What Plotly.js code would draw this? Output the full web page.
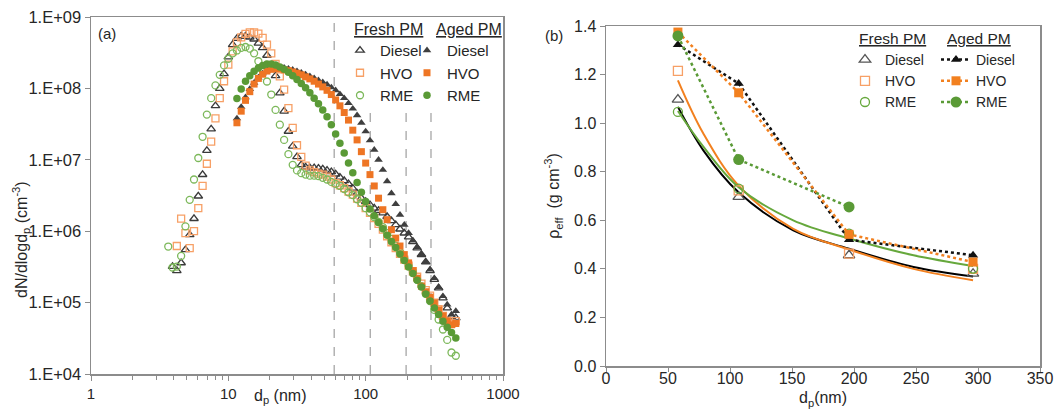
<!DOCTYPE html>
<html>
<head>
<meta charset="utf-8">
<script src="https://cdn.plot.ly/plotly-3.0.1.min.js"></script>
<style>html,body{margin:0;padding:0;background:#fff;}#chart{width:1063px;height:411px;}</style>
</head>
<body>
<div id="chart"></div>
<script>
// ---------- Panel (a): size distributions ----------
const dpFresh = [3.652,3.924,4.217,4.532,4.870,5.233,5.623,6.043,6.494,6.978,7.499,8.058,8.660,9.306,
  10.00,10.75,11.55,12.41,13.34,14.33,15.40,16.55,17.78,19.11,20.54,22.07,23.71,25.48,27.38,29.43,31.62,33.98,
  36.52,39.24,42.17,45.32,48.70,52.33,56.23,60.43,64.94,69.78,74.99,80.58,86.60,93.06,
  100.0,107.5,115.5,124.1,133.4,143.3,154.0,165.5,177.8,191.1,205.4,220.7,237.1,254.8,273.8,294.3,316.2,339.8,365.2,392.4,421.7,453.2];
const dpAged = [11.55,12.41,13.34,14.33,15.40,16.55,17.78,19.11,20.54,22.07,23.71,25.48,27.38,29.43,31.62,33.98,
  36.52,39.24,42.17,45.32,48.70,52.33,56.23,60.43,64.94,69.78,74.99,80.58,86.60,93.06,
  100.0,107.5,115.5,124.1,133.4,143.3,154.0,165.5,177.8,191.1,205.4,220.7,237.1,254.8,273.8,294.3,316.2,339.8,365.2,392.4,421.7,453.2];

const freshDiesel = [null,3.2e5,2.8e5,3.6e5,5.5e5,8.9e5,1.5e6,3.1e6,6.2e6,1.35e7,2.7e7,5.7e7,1.0e8,1.6e8,
  2.75e8,4.1e8,5.0e8,5.4e8,5.4e8,5.2e8,4.9e8,4.3e8,3.7e8,2.9e8,2.1e8,1.5e8,8.6e7,4.8e7,2.5e7,1.55e7,1.1e7,8.5e6,
  7.9e6,7.7e6,7.7e6,7.6e6,7.4e6,7.1e6,6.8e6,6.3e6,5.7e6,5.1e6,4.6e6,4.0e6,3.4e6,2.9e6,
  2.6e6,2.35e6,2.1e6,1.95e6,1.8e6,1.6e6,1.4e6,1.23e6,1.07e6,9.4e5,8.3e5,7.1e5,5.8e5,4.7e5,3.7e5,2.8e5,2.1e5,1.6e5,1.16e5,8.4e4,6.4e4,6.1e4];
const freshHVO = [null,null,6.2e5,1.5e6,9.4e5,5.8e5,1.0e6,2.1e6,4.3e6,8.8e6,1.8e7,3.8e7,7.3e7,1.26e8,
  2.15e8,3.3e8,4.4e8,5.2e8,5.8e8,6.1e8,6.1e8,5.85e8,5.1e8,4.1e8,3.1e8,2.2e8,1.47e8,9.6e7,5.3e7,2.8e7,1.6e7,1.1e7,
  8.3e6,7.1e6,6.7e6,6.4e6,6.2e6,5.8e6,5.3e6,4.7e6,4.4e6,4.0e6,3.6e6,3.25e6,2.85e6,2.5e6,
  2.1e6,1.8e6,1.53e6,1.27e6,1.05e6,8.5e5,7.0e5,5.8e5,4.8e5,4.0e5,3.3e5,2.75e5,2.3e5,1.84e5,1.5e5,1.25e5,1.0e5,8.1e4,6.5e4,5.6e4,5.1e4,5.5e4];
const freshRME = [6.1e5,3.1e5,3.2e5,4.5e5,1.17e6,2.75e6,5.3e6,1.06e7,2.1e7,4.3e7,7.3e7,1.1e8,1.55e8,2.1e8,
  2.6e8,3.1e8,3.4e8,3.7e8,3.8e8,3.6e8,3.1e8,2.4e8,1.8e8,1.25e8,8.2e7,5.0e7,3.1e7,1.9e7,1.2e7,8.5e6,7.1e6,6.5e6,
  6.2e6,6.0e6,6.0e6,5.9e6,5.6e6,5.3e6,4.9e6,4.6e6,4.3e6,3.9e6,3.5e6,3.2e6,2.8e6,2.5e6,
  2.1e6,1.84e6,1.58e6,1.35e6,1.14e6,9.4e5,7.8e5,6.3e5,5.1e5,4.1e5,3.3e5,2.7e5,2.1e5,1.7e5,1.33e5,1.05e5,7.9e4,5.8e4,4.2e4,3.0e4,2.0e4,1.8e4];
const agedDiesel = [3.8e7,5.5e7,7.5e7,9.8e7,1.2e8,1.42e8,1.62e8,1.78e8,1.9e8,1.97e8,1.98e8,1.95e8,1.89e8,1.82e8,1.74e8,1.66e8,
  1.57e8,1.48e8,1.39e8,1.3e8,1.22e8,1.13e8,1.03e8,9.4e7,8.3e7,7.3e7,6.2e7,5.2e7,4.2e7,3.3e7,
  2.5e7,1.87e7,1.38e7,1.0e7,7.2e6,5.0e6,3.4e6,2.4e6,1.7e6,1.23e6,9.4e5,7.4e5,6.0e5,4.7e5,3.7e5,2.9e5,2.2e5,1.65e5,1.23e5,9.4e4,6.8e4,7.6e4];
const agedHVO = [3.3e7,4.8e7,6.8e7,9.0e7,1.15e8,1.38e8,1.58e8,1.75e8,1.85e8,1.9e8,1.88e8,1.82e8,1.77e8,1.7e8,1.63e8,1.55e8,
  1.45e8,1.36e8,1.26e8,1.15e8,1.05e8,9.4e7,8.2e7,6.9e7,5.7e7,4.6e7,3.6e7,2.6e7,1.9e7,1.3e7,
  9.0e6,6.2e6,4.3e6,2.9e6,2.0e6,1.45e6,1.05e6,8.0e5,6.2e5,4.7e5,3.6e5,2.8e5,2.2e5,1.7e5,1.42e5,1.19e5,9.9e4,7.9e4,6.5e4,5.5e4,4.9e4,5.1e4];
const agedRME = [7.2e7,9.8e7,1.26e8,1.5e8,1.74e8,1.93e8,2.1e8,2.2e8,2.2e8,2.12e8,2.0e8,1.85e8,1.68e8,1.5e8,1.33e8,1.17e8,
  1.02e8,8.7e7,7.3e7,6.1e7,5.0e7,4.0e7,3.1e7,2.3e7,1.7e7,1.25e7,9.0e6,6.6e6,4.8e6,3.5e6,
  2.6e6,2.05e6,1.65e6,1.32e6,1.08e6,8.8e5,7.2e5,5.9e5,4.8e5,3.9e5,3.15e5,2.55e5,2.05e5,1.65e5,1.32e5,1.05e5,8.4e4,6.8e4,5.5e4,4.5e4,3.8e4,3.2e4];

const selectedDp = [59, 108, 197, 299];          // dashed reference lines
const selectedTop = [1e9, 5e7, 5e7, 5e7];

const yTickVals = [1e4, 1e5, 1e6, 1e7, 1e8, 1e9];
const yTickText = ['1.E+04', '1.E+05', '1.E+06', '1.E+07', '1.E+08', '1.E+09'];
const xTickVals = [1, 10, 100, 1000];
const xTickText = ['1', '10', '100', '1000'];
const xMinorTicks = [2,3,4,5,6,7,8,9,20,30,40,50,60,70,80,90,200,300,400,500,600,700,800,900];

// ---------- Panel (b): effective density ----------
const dpMob = [58, 107, 196, 296];
const rhoFreshDiesel = [1.097, 0.696, 0.456, 0.38];
const rhoFreshHVO = [1.215, 0.723, 0.463, 0.40];
const rhoFreshRME = [1.046, 0.73, 0.545, 0.401];
const rhoAgedDiesel = [1.323, 1.163, 0.520, 0.456];
const rhoAgedHVO = [1.375, 1.125, 0.542, 0.428];
const rhoAgedRME = [1.359, 0.850, 0.655, null];

const fitDp = [58, 78.5, 106.7, 151, 196, 248, 296];
const fitDiesel = [1.067, 0.888, 0.716, 0.559, 0.483, 0.408, 0.369];
const fitHVO = [1.176, 0.957, 0.744, 0.565, 0.480, 0.400, 0.353];
const fitRME = [1.050, 0.903, 0.737, 0.600, 0.525, 0.456, 0.412];

// ---------- styling ----------
const FONT = '"Liberation Sans", Arial, sans-serif';
const TXT = '#262626';
const FRAME = '#8c8c8c';
const C = {
  blk: '#3a3a3a', blkF: '#3f3f3f',
  orgOpen: '#F7A066', orgF: '#EE7524',
  grnOpen: '#7CB85A', grnF: '#5A9A36',
  orgLine: '#F2801F', grnLine: '#66A83C'
};
const W = 1063, H = 411;
const px = v => v / W, py = v => 1 - v / H;

function mk(x, y, name, sym, size, color, filled, legend, xa, ya) {
  return {
    x: x, y: y, name: name, type: 'scatter', mode: 'markers',
    xaxis: xa, yaxis: ya, legend: legend, cliponaxis: true,
    marker: filled
      ? {symbol: sym, size: size, color: color, line: {width: 0}}
      : {symbol: sym, size: size, color: color, line: {width: 1.3, color: color}},
    hoverinfo: 'x+y'
  };
}

const traces = [
  mk(dpFresh, freshDiesel, 'Diesel', 'triangle-up-open', 7.5, C.blk, false, 'legend', 'x', 'y'),
  mk(dpFresh, freshHVO, 'HVO', 'square-open', 7, C.orgOpen, false, 'legend', 'x', 'y'),
  mk(dpFresh, freshRME, 'RME', 'circle-open', 7, C.grnOpen, false, 'legend', 'x', 'y'),
  mk(dpAged, agedDiesel, 'Diesel', 'triangle-up', 7.5, C.blkF, true, 'legend2', 'x', 'y'),
  mk(dpAged, agedHVO, 'HVO', 'square', 7, C.orgF, true, 'legend2', 'x', 'y'),
  mk(dpAged, agedRME, 'RME', 'circle', 7.5, C.grnF, true, 'legend2', 'x', 'y'),
  // panel b fits
  {x: fitDp, y: fitDiesel, type: 'scatter', mode: 'lines', xaxis: 'x2', yaxis: 'y2', showlegend: false,
   line: {color: '#000', width: 2, shape: 'spline'}, name: 'Diesel fit'},
  {x: fitDp, y: fitHVO, type: 'scatter', mode: 'lines', xaxis: 'x2', yaxis: 'y2', showlegend: false,
   line: {color: C.orgLine, width: 2, shape: 'spline'}, name: 'HVO fit'},
  {x: fitDp, y: fitRME, type: 'scatter', mode: 'lines', xaxis: 'x2', yaxis: 'y2', showlegend: false,
   line: {color: C.grnLine, width: 2, shape: 'spline'}, name: 'RME fit'},
  mk(dpMob, rhoFreshDiesel, 'Diesel', 'triangle-up-open', 10, '#555', false, 'legend3', 'x2', 'y2'),
  mk(dpMob, rhoFreshHVO, 'HVO', 'square-open', 9, C.orgOpen, false, 'legend3', 'x2', 'y2'),
  mk(dpMob, rhoFreshRME, 'RME', 'circle-open', 9, C.grnLine, false, 'legend3', 'x2', 'y2'),
];
function aged(y, name, sym, size, color) {
  return {x: dpMob, y: y, name: name, type: 'scatter', mode: 'lines+markers', xaxis: 'x2', yaxis: 'y2',
    legend: 'legend4', line: {color: color, width: 2.5, dash: 'dot'},
    marker: {symbol: sym, size: size, color: color, line: {width: 0}}};
}
traces.push(aged(rhoAgedDiesel, 'Diesel', 'triangle-up', 9, '#111'));
traces.push(aged(rhoAgedHVO, 'HVO', 'square', 9, C.orgLine));
traces.push(aged(rhoAgedRME, 'RME', 'circle', 11, C.grnF));

const axCommon = {
  showline: true, mirror: true, linecolor: FRAME, linewidth: 1.5,
  ticks: 'outside', ticklen: 5, tickcolor: FRAME, tickwidth: 1,
  showgrid: false, zeroline: false, fixedrange: true,
  tickfont: {family: FONT, size: 16, color: TXT}
};

const legendBase = {
  bgcolor: 'rgba(0,0,0,0)', borderwidth: 0, xanchor: 'left', yanchor: 'top',
  itemwidth: 30, tracegroupgap: 0, orientation: 'v', itemclick: false, itemdoubleclick: false
};

function note(x, y, text, size, extra) {
  return Object.assign({xref: 'paper', yref: 'paper', x: px(x), y: py(y), xanchor: 'center', yanchor: 'middle',
    text: text, showarrow: false, font: {family: FONT, size: size, color: TXT}}, extra || {});
}

const layout = {
  width: W, height: H, margin: {l: 0, r: 0, t: 0, b: 0},
  paper_bgcolor: '#fff', plot_bgcolor: '#fff',
  font: {family: FONT, size: 15, color: TXT},
  showlegend: true,
  xaxis: Object.assign({}, axCommon, {
    type: 'log', range: [0, 3], domain: [px(91), px(503)], anchor: 'y',
    tickmode: 'array', tickvals: xTickVals, ticktext: xTickText,
    tickfont: {family: FONT, size: 15, color: TXT},
    minor: {tickmode: 'array', tickvals: xMinorTicks, ticks: 'outside', ticklen: 4, tickcolor: FRAME, tickwidth: 1, showgrid: false}
  }),
  yaxis: Object.assign({}, axCommon, {
    type: 'log', range: [4, 9], domain: [py(374), py(17)], anchor: 'x',
    tickmode: 'array', tickvals: yTickVals, ticktext: yTickText,
    tickfont: {family: FONT, size: 16.5, color: TXT}
  }),
  xaxis2: Object.assign({}, axCommon, {
    range: [0, 350], dtick: 50, tick0: 0, domain: [px(606), px(1040)], anchor: 'y2', ticklen: 4,
    ticklabelstandoff: -7,
    title: {text: 'd<sub>p</sub>(nm)', font: {family: FONT, size: 16, color: TXT}, standoff: 6}
  }),
  yaxis2: Object.assign({}, axCommon, {
    range: [0, 1.4], dtick: 0.2, tick0: 0, tickformat: '.1f', domain: [py(366), py(26)], anchor: 'x2',
    title: {text: 'ρ<sub>eff</sub>  (g cm<sup>-3</sup>)', font: {family: FONT, size: 16, color: TXT}, standoff: 10}
  }),
  legend: Object.assign({}, legendBase, {x: px(340), y: py(34), font: {family: FONT, size: 15, color: TXT}}),
  legend2: Object.assign({}, legendBase, {x: px(407), y: py(34), font: {family: FONT, size: 15, color: TXT}}),
  legend3: Object.assign({}, legendBase, {x: px(845), y: py(44), font: {family: FONT, size: 14, color: TXT}}),
  legend4: Object.assign({}, legendBase, {x: px(936), y: py(44), font: {family: FONT, size: 14, color: TXT}}),
  shapes: selectedDp.map((d, i) => ({
    type: 'line', xref: 'x', yref: 'y', x0: d, x1: d, y0: 1e4, y1: selectedTop[i],
    line: {color: '#a6a6a6', width: 1.3, dash: 'dash'}, layer: 'below'
  })),
  annotations: [
    note(107, 33, '(a)', 15),
    note(554, 35, '(b)', 15),
    note(21, 240, 'dN/dlogd<sub>p</sub> (cm<sup>-3</sup>)', 16, {textangle: -90}),
    note(280, 396, 'd<sub>p</sub> (nm)', 16),
    note(388, 29, '<u>Fresh PM</u>', 16),
    note(469, 29, '<u>Aged PM</u>', 16),
    note(892, 38, '<u>Fresh PM</u>', 15.5),
    note(979, 38, '<u>Aged PM</u>', 15.5)
  ]
};

Plotly.newPlot('chart', traces, layout, {displayModeBar: false, staticPlot: true});
</script>
</body>
</html>
